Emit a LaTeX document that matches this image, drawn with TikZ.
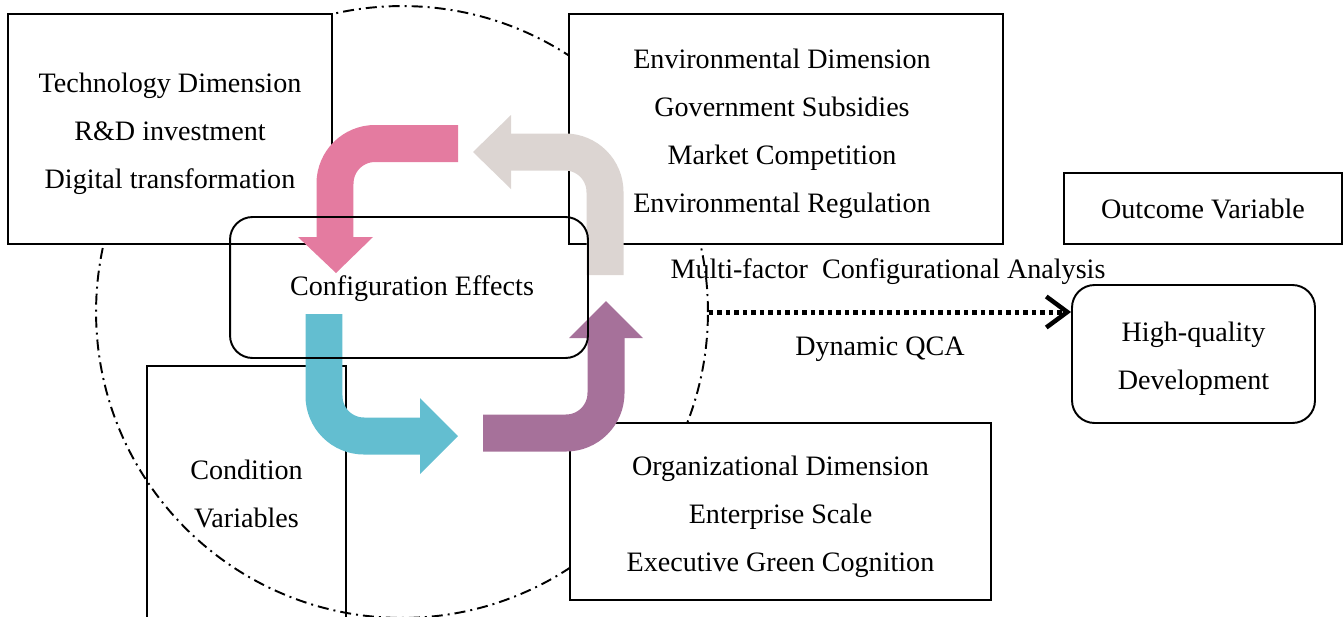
\documentclass[tikz,border=0pt]{standalone}
\usepackage{fontspec}
\setmainfont{Liberation Serif}
\usetikzlibrary{arrows.meta}

\definecolor{bandpink}{RGB}{228,123,160}
\definecolor{bandgrey}{RGB}{220,213,210}
\definecolor{bandcyan}{RGB}{99,190,208}
\definecolor{bandplum}{RGB}{166,113,154}

\tikzset{
  txt/.style={font=\fontsize{16}{27.3}\selectfont, align=center, inner sep=0pt},
  intxt/.style={txt, yshift=-0.1cm},
  panel/.style={draw, line width=1.1pt, inner sep=0pt},
  solidpanel/.style={panel, fill=white},
  roundpanel/.style={panel, rounded corners=0.45cm},
  ring/.style={circle, draw, line width=1.1pt, inner sep=0pt,
    dash pattern=on 0.22cm off 0.1cm on 0.04cm off 0.1cm},
  band/.style={line width=0.74cm, rounded corners=0.8cm},
  flow/.style={line width=0.1cm, dash pattern=on 0.09cm off 0.08cm,
    -{Straight Barb[length=0.42cm, width=0.62cm, line width=0.09cm]}}
}

\begin{document}
\begin{tikzpicture}[x=0.02cm, y=-0.02cm]
  \useasboundingbox (0,0) rectangle (1343,616);

  % dash-dot ring around the condition variables
  \node[ring, minimum size=12.24cm] (ring) at (402,312) {};

  % condition variables frame (open, the ring shows through)
  \node[panel, minimum width=3.98cm, minimum height=5.12cm] (cond) at (246.5,494) {};
  \node[txt] (condtxt) at (cond.center) {Condition\\Variables};

  % dimension boxes
  \node[solidpanel, minimum width=6.48cm, minimum height=4.6cm] (tech) at (170,129) {};
  \node[intxt] (techtxt) at (tech.center)
    {Technology Dimension\\R\&D investment\\Digital transformation};
  \node[solidpanel, minimum width=8.68cm, minimum height=4.6cm] (env) at (786,129) {};
  \node[intxt] (envtxt) at (782,129)
    {Environmental Dimension\\Government Subsidies\\Market Competition\\Environmental Regulation};
  \node[solidpanel, minimum width=8.42cm, minimum height=3.54cm] (org) at (780.5,511.5) {};
  \node[intxt] (orgtxt) at (org.center)
    {Organizational Dimension\\Enterprise Scale\\Executive Green Cognition};

  % outcome side
  \node[solidpanel, minimum width=5.56cm, minimum height=1.42cm] (outcome) at (1203,208.5) {};
  \node[txt] (outtxt) at (outcome.center) {Outcome Variable};
  \node[roundpanel, fill=white, minimum width=4.86cm, minimum height=2.76cm] (hq) at (1193.5,354) {};
  \node[intxt] (hqtxt) at (hq.center) {High-quality\\Development};

  % method labels and the link to the outcome
  \node[txt] (multi) at (888,272) {Multi-factor\ \ Configurational Analysis};
  \node[txt] (qca) at (880,349) {Dynamic QCA};
  \draw[flow] (ring.east) -- (ring.east -| hq.west);

  % circular flow of the four bent arrows
  \coordinate (pinkTail) at (458,143.5);
  \coordinate (pinkBend) at (335,143.5);
  \coordinate (pinkBase) at (335,238);
  \draw[band, bandpink] (pinkTail) -- (pinkBend) -- (pinkBase);
  \fill[bandpink] (298,237) -- (373,237) -- (336,273) -- cycle;

  \coordinate (greyTail) at (605,275);
  \coordinate (greyBend) at (605,152);
  \coordinate (greyBase) at (510,152);
  \draw[band, bandgrey] (greyTail) -- (greyBend) -- (greyBase);
  \fill[bandgrey] (511,115) -- (511,189) -- (473,152) -- cycle;

  \coordinate (cyanTail) at (324,314);
  \coordinate (cyanBend) at (324,436);
  \coordinate (cyanBase) at (421,436);
  \draw[band, bandcyan] (cyanTail) -- (cyanBend) -- (cyanBase);
  \fill[bandcyan] (420,398) -- (420,474) -- (458,436) -- cycle;

  \coordinate (plumTail) at (483,433);
  \coordinate (plumBend) at (606,433);
  \coordinate (plumBase) at (606,337);
  \draw[band, bandplum] (plumTail) -- (plumBend) -- (plumBase);
  \fill[bandplum] (569,338) -- (643,338) -- (606,301) -- cycle;

  % central configuration box, drawn over the arrows
  \node[roundpanel, minimum width=7.16cm, minimum height=2.82cm] (config) at (409,287.5) {};
  \node[txt] (configtxt) at (412,289) {Configuration Effects};
\end{tikzpicture}
\end{document}
